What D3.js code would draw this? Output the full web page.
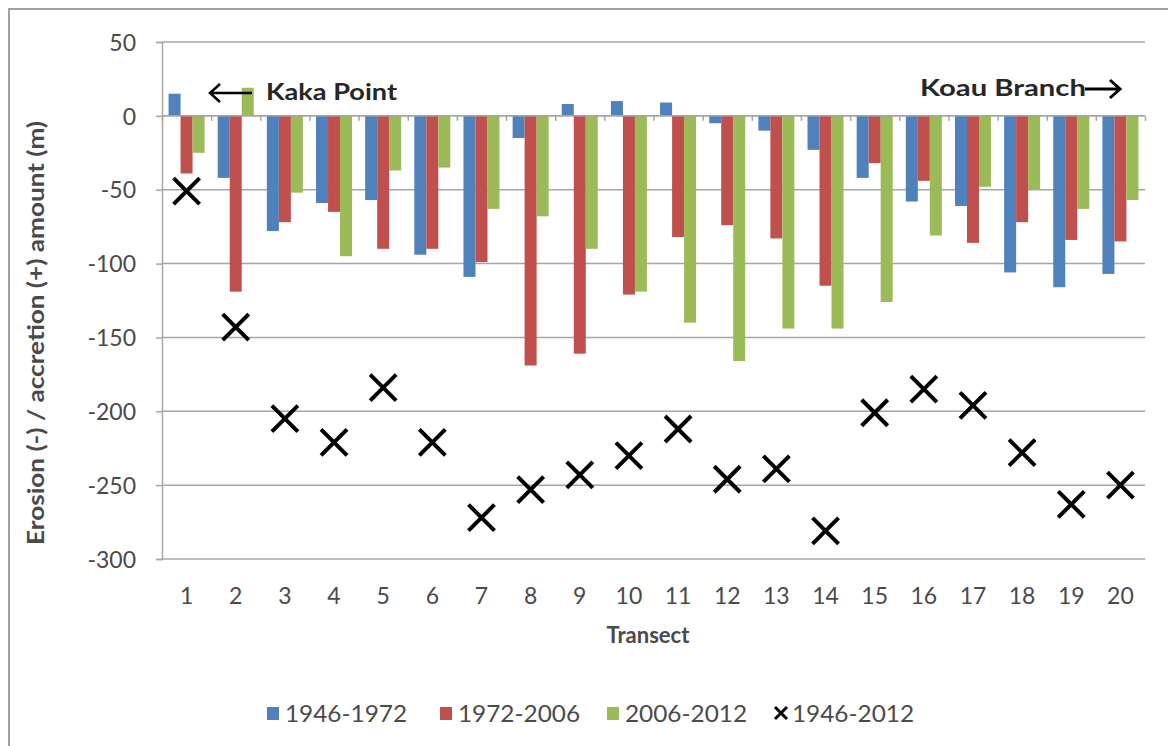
<!DOCTYPE html>
<html><head><meta charset="utf-8">
<script src="https://cdn.jsdelivr.net/npm/d3@7"></script>
<style>
body{margin:0;background:#fff;}
text{font-family:Lato,"Open Sans",sans-serif;}
</style>
</head><body>
<svg id="chart" width="1168" height="746"></svg>
<script>
const categories = ["1","2","3","4","5","6","7","8","9","10","11","12","13","14","15","16","17","18","19","20"];
const seriesNames = ["1946-1972","1972-2006","2006-2012"];
const totalName = "1946-2012";
const s1946_1972 = [15,-42,-78,-59,-57,-94,-109,-15,8,10,9,-5,-10,-23,-42,-58,-61,-106,-116,-107];
const s1972_2006 = [-39,-119,-72,-65,-90,-90,-99,-169,-161,-121,-82,-74,-83,-115,-32,-44,-86,-72,-84,-85];
const s2006_2012 = [-25,19,-52,-95,-37,-35,-63,-68,-90,-119,-140,-166,-144,-144,-126,-81,-48,-50,-63,-57];
const s1946_2012 = [-51,-143,-205,-221,-184,-221,-272,-253,-243,-230,-212,-246,-239,-281,-201,-185,-196,-228,-263,-250];
const yTicks = [50,0,-50,-100,-150,-200,-250,-300];
const colors = ["#4F81BD","#C0504D","#9BBB59"];

const barSeries = [s1946_1972, s1972_2006, s2006_2012];
const svg = d3.select("#chart");
const L = 162, R = 1145, T = 42, B = 559;
const grid = "#a6a6a6", txt = "#4a4a4a";

svg.append("rect").attr("x",0).attr("y",0).attr("width",1168).attr("height",746).attr("fill","#fff");
svg.append("rect").attr("x",9).attr("y",9).attr("width",1175).attr("height",760)
  .attr("fill","none").attr("stroke","#a0a0a0").attr("stroke-width",2);

const y = d3.scaleLinear().domain([-300,50]).range([B,T]);
const x = d3.scaleBand().domain(categories).range([L,R]).paddingInner(0).paddingOuter(0);
const x1 = d3.scaleBand().domain(seriesNames).range([-18,18]);

// gridlines
svg.append("g").selectAll("line").data(yTicks).join("line")
  .attr("x1",L).attr("x2",R).attr("y1",d=>y(d)).attr("y2",d=>y(d))
  .attr("stroke",grid).attr("stroke-width",1.5);

// y axis
const yAx = svg.append("g").attr("transform",`translate(${L},0)`)
  .call(d3.axisLeft(y).tickValues(yTicks).tickSize(6).tickPadding(20).tickFormat(d=>String(d)));
yAx.select(".domain").attr("stroke",grid).attr("stroke-width",1.5);
yAx.selectAll(".tick line").attr("stroke",grid).attr("stroke-width",1.5);
yAx.selectAll("text").attr("fill",txt).style("font-size","23px").attr("dy","0.36em");

// bars
const groups = svg.append("g").selectAll("g").data(categories).join("g")
  .attr("transform",d=>`translate(${x(d)+x.bandwidth()/2},0)`);
groups.selectAll("rect").data((d,i)=>seriesNames.map((s,j)=>({s, v:barSeries[j][i], j})))
  .join("rect")
  .attr("x",d=>x1(d.s)).attr("width",x1.bandwidth())
  .attr("y",d=>y(Math.max(0,d.v))).attr("height",d=>Math.abs(y(d.v)-y(0)))
  .attr("fill",d=>colors[d.j]);

// zero axis with boundary ticks
const xb = d3.scaleLinear().domain([0,categories.length]).range([L,R]);
const zAx = svg.append("g").attr("transform",`translate(0,${y(0)})`)
  .call(d3.axisBottom(xb).tickValues(d3.range(0,categories.length+1)).tickSize(5).tickFormat(""));
zAx.select(".domain").attr("stroke",grid).attr("stroke-width",1.5).attr("d",`M${L},0H${R}`);
zAx.selectAll(".tick line").attr("stroke",grid).attr("stroke-width",1.5);

// category labels
const xAx = svg.append("g").attr("transform",`translate(0,${B})`)
  .call(d3.axisBottom(x).tickSize(0).tickPadding(29));
xAx.select(".domain").remove();
xAx.selectAll("text").attr("fill",txt).style("font-size","23px");

// X markers
const m = 13;
svg.append("g").selectAll("path").data(s1946_2012).join("path")
  .attr("transform",(d,i)=>`translate(${x(categories[i])+x.bandwidth()/2},${y(d)})`)
  .attr("d",`M${-m},${-m}L${m},${m}M${-m},${m}L${m},${-m}`)
  .attr("stroke","#000").attr("stroke-width",4).attr("fill","none");

// axis titles
svg.append("text").attr("x",648).attr("y",643).attr("text-anchor","middle")
  .attr("fill",txt).style("font-size","22px").style("font-weight","bold").text("Transect");
svg.append("text").attr("transform","translate(36,333) rotate(-90)").attr("dy","0.35em")
  .attr("text-anchor","middle").attr("fill",txt).style("font-size","23px").style("font-weight","bold")
  .attr("textLength",424).attr("lengthAdjust","spacingAndGlyphs")
  .text("Erosion (-) / accretion (+) amount (m)");

// annotations
svg.append("text").attr("x",266).attr("y",100).attr("fill","#262626")
  .style("font-size","22px").style("font-weight","bold").attr("textLength",131).attr("lengthAdjust","spacingAndGlyphs").text("Kaka Point");
svg.append("path").attr("d","M252,93H210M220,84L210,93L220,102").attr("stroke","#000").attr("stroke-width",2.5).attr("fill","none");
svg.append("text").attr("x",920).attr("y",96).attr("fill","#262626")
  .style("font-size","22px").style("font-weight","bold").attr("textLength",166).attr("lengthAdjust","spacingAndGlyphs").text("Koau Branch");
svg.append("path").attr("d","M1085,89H1120M1110,80L1120,89L1110,98").attr("stroke","#000").attr("stroke-width",3).attr("fill","none");

// legend
const legX = [267,440,607,774];
const leg = svg.append("g");
[...seriesNames, totalName].forEach((name,i)=>{
  const g = leg.append("g").attr("transform",`translate(${legX[i]},713)`);
  if(i<3){
    g.append("rect").attr("x",0).attr("y",-6).attr("width",12).attr("height",13).attr("fill",colors[i]);
  } else {
    g.append("path").attr("d","M1,-6L13,6M1,6L13,-6").attr("stroke","#000").attr("stroke-width",3);
  }
  g.append("text").attr("x",18).attr("dy","0.36em").attr("fill",txt).style("font-size","24px")
    .attr("textLength",122).attr("lengthAdjust","spacingAndGlyphs").text(name);
});
</script>
</body></html>
